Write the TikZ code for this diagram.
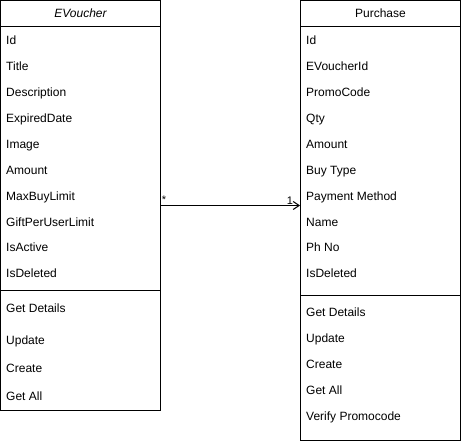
\documentclass[tikz,border=0pt]{standalone}
\usepackage{fontspec}
\setmainfont{Liberation Sans}
\usetikzlibrary{arrows.meta}
\begin{document}
\begin{tikzpicture}[x=1pt,y=-1pt,
  box/.style={draw=black,line width=1pt},
  item/.style={anchor=west,inner sep=0pt,text height=9.5pt,text depth=0.5pt,font=\fontsize{12}{14}\selectfont},
  head/.style={inner sep=0pt,text height=9.5pt,text depth=0.5pt,font=\fontsize{12}{14}\selectfont},
  lbl/.style={inner sep=0pt,font=\fontsize{11}{13}\selectfont}]
\useasboundingbox (0,0) rectangle (461,441);
% EVoucher class
\draw[box] (0.5,0.5) rectangle (160.5,410.5);
\draw[box] (0.5,26.5) -- (160.5,26.5);
\draw[box] (0.5,290.5) -- (160.5,290.5);
\node[head,font=\fontsize{12}{14}\selectfont\itshape] (evh) at (80.5,13) {EVoucher};
\node[item] (e1) at (6,40) {Id};
\node[item] (e2) at (6,66) {Title};
\node[item] (e3) at (6,92) {Description};
\node[item] (e4) at (6,118) {ExpiredDate};
\node[item] (e5) at (6,144) {Image};
\node[item] (e6) at (6,170) {Amount};
\node[item] (e7) at (6,196) {MaxBuyLimit};
\node[item] (e8) at (6,222) {GiftPerUserLimit};
\node[item] (e9) at (6,247) {IsActive};
\node[item] (e10) at (6,273) {IsDeleted};
\node[item] (em1) at (6,308) {Get Details};
\node[item] (em2) at (6,340) {Update};
\node[item] (em3) at (6,368) {Create};
\node[item] (em4) at (6,396) {Get All};
% Purchase class
\draw[box] (300.5,0.5) rectangle (460.5,440.5);
\draw[box] (300.5,26.5) -- (460.5,26.5);
\draw[box] (300.5,295.5) -- (460.5,295.5);
\node[head] (ph) at (380.5,13) {Purchase};
\node[item] (p1) at (306,40) {Id};
\node[item] (p2) at (306,66) {EVoucherId};
\node[item] (p3) at (306,92) {PromoCode};
\node[item] (p4) at (306,118) {Qty};
\node[item] (p5) at (306,144) {Amount};
\node[item] (p6) at (306,170) {Buy Type};
\node[item] (p7) at (306,196) {Payment Method};
\node[item] (p8) at (306,222) {Name};
\node[item] (p9) at (306,247) {Ph No};
\node[item] (p10) at (306,273) {IsDeleted};
\node[item] (pm1) at (306,312) {Get Details};
\node[item] (pm2) at (306,338) {Update};
\node[item] (pm3) at (306,364) {Create};
\node[item] (pm4) at (306,390) {Get All};
\node[item] (pm5) at (306,416) {Verify Promocode};
% association
\coordinate (a) at (160.5,205.5);
\coordinate (b) at (300,205.5);
\draw[line width=1pt,-{Straight Barb[length=6pt,width=8pt]}] (a) -- (b);
\node[lbl] (star) at (164,200) {*};
\node[lbl] (one) at (290,201) {1};
\end{tikzpicture}
\end{document}
